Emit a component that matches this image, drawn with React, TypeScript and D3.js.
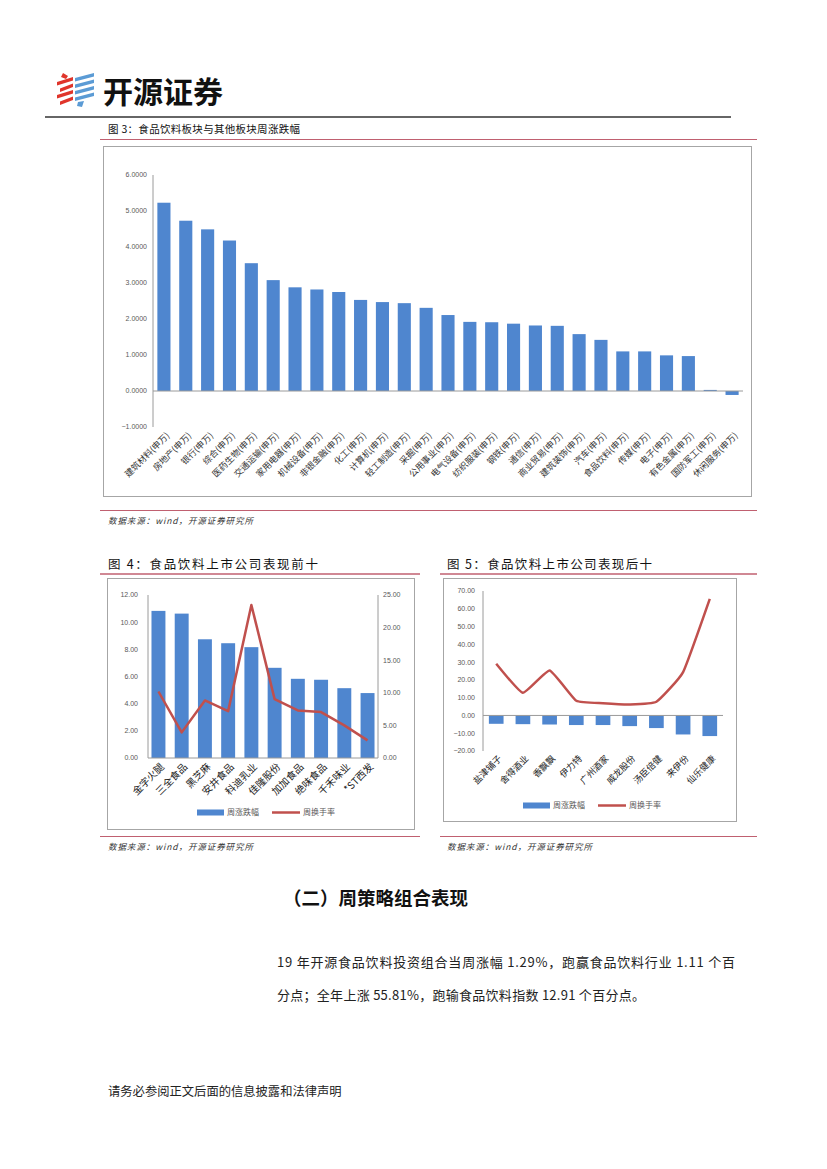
import React from "react";
import * as d3 from "d3";

const sectorNames = ["建筑材料(申万)","房地产(申万)","银行(申万)","综合(申万)","医药生物(申万)","交通运输(申万)","家用电器(申万)","机械设备(申万)","非银金融(申万)","化工(申万)","计算机(申万)","轻工制造(申万)","采掘(申万)","公用事业(申万)","电气设备(申万)","纺织服装(申万)","钢铁(申万)","通信(申万)","商业贸易(申万)","建筑装饰(申万)","汽车(申万)","食品饮料(申万)","传媒(申万)","电子(申万)","有色金属(申万)","国防军工(申万)","休闲服务(申万)"];
const sectorChanges = [5.23,4.73,4.49,4.18,3.55,3.08,2.88,2.82,2.75,2.53,2.47,2.44,2.31,2.11,1.92,1.91,1.87,1.82,1.81,1.58,1.42,1.10,1.10,0.99,0.97,0.03,-0.11];
const sectorTicks = [-1,0,1,2,3,4,5,6];

const topNames = ["金字火腿","三全食品","黑芝麻","安井食品","科迪乳业","佳隆股份","加加食品","绝味食品","千禾味业","*ST西发"];
const topChange = [10.83,10.63,8.74,8.45,8.16,6.64,5.83,5.76,5.14,4.78];
const topTurnover = [10.2,3.93,8.83,7.19,23.47,9.03,7.30,7.04,5.0,2.70];
const topLeftTicks = [0,2,4,6,8,10,12];
const topRightTicks = [0,5,10,15,20,25];

const bottomNames = ["盐津铺子","舍得酒业","香飘飘","伊力特","广州酒家","威龙股份","汤臣倍健","来伊份","仙乐健康"];
const bottomChange = [-4.7,-4.9,-5.1,-5.4,-5.4,-6.0,-7.1,-10.7,-11.6];
const bottomTurnover = [29.1,12.75,25.3,8.25,6.9,6.2,7.7,24.4,65.6];
const bottomTicks = [-20,-10,0,10,20,30,40,50,60,70];

const legendLabels = ["周涨跌幅","周换手率"];
const sourceText = "数据来源：wind，开源证券研究所";

const BLUE = "#4f86cf";
const RED = "#c0504d";
const CJK = "'Noto Sans CJK SC', 'Noto Sans', sans-serif";
const NUM = "'Liberation Sans', Arial, sans-serif";
const AXIS = "#9a9a9a";
const TICKC = "#595959";
const RULE = "#c06070";

function Logo() {
  const idx = [0, 1, 2, 3];
  return (
    <g>
      {idx.map((i) => (
        <polygon key={"r" + i} fill="#e0352b"
          points={`${57 + (i % 2) * 3},${82 + i * 6.5} ${73},${77 + i * 6.5} ${73},${80.5 + i * 6.5} ${57 + (i % 2) * 3},${85.5 + i * 6.5}`} />
      ))}
      <polygon fill="#e0352b" points="63,73 68,76 66,79 61,77" />
      {idx.map((i) => (
        <polygon key={"b" + i} fill="#5b9bd5"
          points={`${75},${78 + i * 6.5} ${94},${73 + i * 6.5} ${94},${76.5 + i * 6.5} ${75},${81.5 + i * 6.5}`} />
      ))}
      <polygon fill="#5b9bd5" points="78,102 84,101 82,107 77,106" />
      <text x={103} y={103} fontFamily={CJK} fontWeight={700} fontSize={30} fill="#111">开源证券</text>
      <line x1={45} x2={731} y1={117} y2={117} stroke="#333" strokeWidth={1.5} />
    </g>
  );
}

function Source({ x, y }: { x: number; y: number }) {
  return <text x={x} y={y} fontFamily={CJK} fontStyle="italic" fontSize={8.5} fill="#333" textLength={145} lengthAdjust="spacing">{sourceText}</text>;
}

function Fig3() {
  const x = d3.scaleBand<string>().domain(sectorNames).range([153, 743]).paddingInner(0.4).paddingOuter(0.2);
  const y = d3.scaleLinear().domain([-1, 6]).range([427, 175]);
  const fmt = d3.format(".4f");
  return (
    <g>
      <text x={108} y={133} fontFamily={CJK} fontSize={10.5} fill="#111" textLength={192} lengthAdjust="spacing">图 3：食品饮料板块与其他板块周涨跌幅</text>
      <line x1={100} x2={757} y1={139.5} y2={139.5} stroke={RULE} strokeWidth={1} />
      <rect x={103.5} y={146.5} width={648} height={350} fill="#fff" stroke="#a6a6a6" strokeWidth={1} />
      <line x1={153} x2={153} y1={y(6)} y2={y(-1)} stroke={AXIS} strokeWidth={1} />
      {sectorTicks.map((t) => (
        <text key={t} x={147} y={y(t)} dy="0.35em" textAnchor="end" fontFamily={NUM} fontSize={7} fill={TICKC}>{fmt(t)}</text>
      ))}
      {sectorNames.map((n, i) => {
        const v = sectorChanges[i];
        return <rect key={n} x={x(n)} width={x.bandwidth()} y={y(Math.max(0, v))} height={Math.abs(y(v) - y(0))} fill={BLUE} />;
      })}
      <line x1={153} x2={743} y1={y(0)} y2={y(0)} stroke={AXIS} strokeWidth={1} />
      {sectorNames.map((n) => {
        const cx = (x(n) as number) + x.bandwidth() / 2;
        return (
          <text key={n} transform={`translate(${cx + 4},${434}) rotate(-45)`} textAnchor="end" dy="0.35em" fontFamily={CJK} fontSize={8.8} fill="#333">{n}</text>
        );
      })}
      <line x1={100} x2={757} y1={510.5} y2={510.5} stroke={RULE} strokeWidth={1} />
      <Source x={108} y={524} />
    </g>
  );
}

function Legend({ x1, x2, y }: { x1: number; x2: number; y: number }) {
  return (
    <g>
      <rect x={x1} y={y - 3} width={27} height={6} fill={BLUE} />
      <text x={x1 + 30} y={y} dy="0.35em" fontFamily={CJK} fontSize={8} fill={TICKC}>{legendLabels[0]}</text>
      <line x1={x2} x2={x2 + 28} y1={y} y2={y} stroke={RED} strokeWidth={2.5} />
      <text x={x2 + 31} y={y} dy="0.35em" fontFamily={CJK} fontSize={8} fill={TICKC}>{legendLabels[1]}</text>
    </g>
  );
}

function Fig4() {
  const x = d3.scaleBand<string>().domain(topNames).range([148, 378]).paddingInner(0.4).paddingOuter(0.15);
  const yL = d3.scaleLinear().domain([0, 12]).range([758, 595]);
  const yR = d3.scaleLinear().domain([0, 25]).range([758, 595]);
  const fmt = d3.format(".2f");
  const cx = (n: string) => (x(n) as number) + x.bandwidth() / 2;
  const line = d3.line<number>().x((_, i) => cx(topNames[i])).y((v) => yR(v));
  return (
    <g>
      <text x={108} y={569} fontFamily={CJK} fontSize={12.5} fill="#111" textLength={210} lengthAdjust="spacing">图 4：食品饮料上市公司表现前十</text>
      <line x1={100} x2={420} y1={574} y2={574} stroke={RULE} strokeWidth={1.5} />
      <rect x={107.5} y={578.5} width={307} height={251} fill="#fff" stroke="#a6a6a6" strokeWidth={1} />
      <line x1={148} x2={148} y1={595} y2={758} stroke={AXIS} />
      <line x1={378} x2={378} y1={595} y2={758} stroke={AXIS} />
      {topLeftTicks.map((t) => (
        <text key={t} x={138} y={yL(t)} dy="0.35em" textAnchor="end" fontFamily={NUM} fontSize={7} fill={TICKC}>{fmt(t)}</text>
      ))}
      {topRightTicks.map((t) => (
        <text key={t} x={383} y={yR(t)} dy="0.35em" textAnchor="start" fontFamily={NUM} fontSize={7} fill={TICKC}>{fmt(t)}</text>
      ))}
      {topNames.map((n, i) => (
        <rect key={n} x={x(n)} width={x.bandwidth()} y={yL(topChange[i])} height={yL(0) - yL(topChange[i])} fill={BLUE} />
      ))}
      <line x1={148} x2={378} y1={758} y2={758} stroke={AXIS} />
      <path d={line(topTurnover) || ""} fill="none" stroke={RED} strokeWidth={2.5} strokeLinejoin="round" />
      {topNames.map((n) => (
        <text key={n} transform={`translate(${cx(n) + 4},${765}) rotate(-45)`} textAnchor="end" dy="0.35em" fontFamily={CJK} fontSize={10} fill="#222">{n}</text>
      ))}
      <Legend x1={197} x2={272} y={812.5} />
      <line x1={100} x2={420} y1={836.5} y2={836.5} stroke={RULE} strokeWidth={1} />
      <Source x={108} y={850} />
    </g>
  );
}

function Fig5() {
  const x = d3.scaleBand<string>().domain(bottomNames).range([483, 723]).paddingInner(0.45).paddingOuter(0.22);
  const y = d3.scaleLinear().domain([-20, 70]).range([751, 591]);
  const fmt = d3.format(".2f");
  const cx = (n: string) => (x(n) as number) + x.bandwidth() / 2;
  const line = d3.line<number>().x((_, i) => cx(bottomNames[i])).y((v) => y(v)).curve(d3.curveCardinal.tension(0.6));
  return (
    <g>
      <text x={447} y={569} fontFamily={CJK} fontSize={12.5} fill="#111" textLength={205} lengthAdjust="spacing">图 5：食品饮料上市公司表现后十</text>
      <line x1={440} x2={757} y1={574} y2={574} stroke={RULE} strokeWidth={1.5} />
      <rect x={443.5} y={578.5} width={293} height={243} fill="#fff" stroke="#a6a6a6" strokeWidth={1} />
      <line x1={483} x2={483} y1={591} y2={751} stroke={AXIS} />
      {bottomTicks.map((t) => (
        <text key={t} x={475} y={y(t)} dy="0.35em" textAnchor="end" fontFamily={NUM} fontSize={7} fill={TICKC}>{fmt(t)}</text>
      ))}
      {bottomNames.map((n, i) => (
        <rect key={n} x={x(n)} width={x.bandwidth()} y={y(0)} height={y(bottomChange[i]) - y(0)} fill={BLUE} />
      ))}
      <line x1={483} x2={723} y1={y(0)} y2={y(0)} stroke={AXIS} />
      <path d={line(bottomTurnover) || ""} fill="none" stroke={RED} strokeWidth={2.5} strokeLinejoin="round" />
      {bottomNames.map((n) => (
        <text key={n} transform={`translate(${cx(n) + 4},${757}) rotate(-45)`} textAnchor="end" dy="0.35em" fontFamily={CJK} fontSize={9} fill="#222">{n}</text>
      ))}
      <Legend x1={523} x2={598} y={805.5} />
      <line x1={440} x2={757} y1={836.5} y2={836.5} stroke={RULE} strokeWidth={1} />
      <Source x={447} y={850} />
    </g>
  );
}

export default function App() {
  return (
    <svg width={827} height={1169} viewBox="0 0 827 1169" style={{ position: "absolute", left: 0, top: 0, background: "#fff" }}>
      <rect x={0} y={0} width={827} height={1169} fill="#fff" />
      <Logo />
      <Fig3 />
      <Fig4 />
      <Fig5 />
      <text x={283} y={905} fontFamily={CJK} fontWeight={700} fontSize={18.5} fill="#111">（二）周策略组合表现</text>
      <text x={277} y={967} fontFamily={CJK} fontSize={13} fill="#222" textLength={458} lengthAdjust="spacing">19 年开源食品饮料投资组合当周涨幅 1.29%，跑赢食品饮料行业 1.11 个百</text>
      <text x={277} y={1000} fontFamily={CJK} fontSize={13} fill="#222" textLength={368} lengthAdjust="spacing">分点；全年上涨 55.81%，跑输食品饮料指数 12.91 个百分点。</text>
      <text x={108} y={1096} fontFamily={CJK} fontSize={12.3} fill="#222">请务必参阅正文后面的信息披露和法律声明</text>
    </svg>
  );
}
